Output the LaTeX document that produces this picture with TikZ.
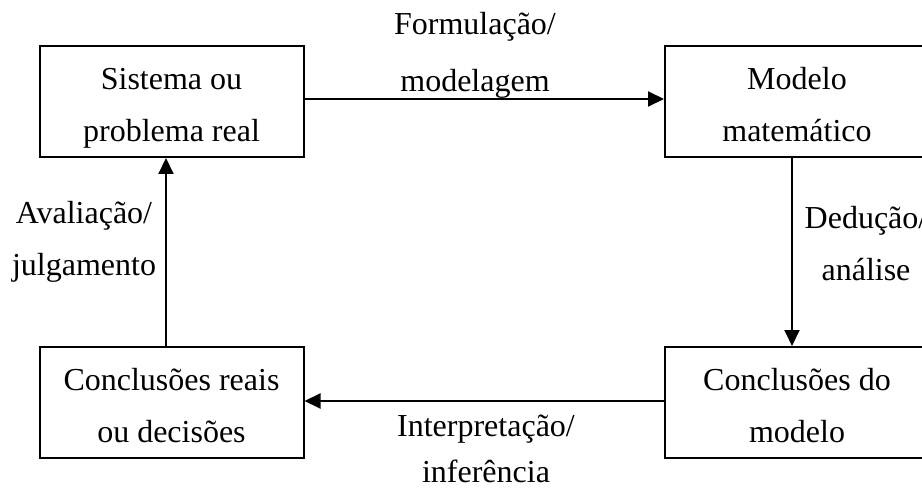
\documentclass[tikz,border=0pt]{standalone}
\usepackage{fontspec}
\setmainfont{Liberation Serif}
\usetikzlibrary{arrows.meta}

\begin{document}
\begin{tikzpicture}[line join=miter,>={Triangle[length=8pt,width=7.5pt]},x=0.5pt,y=-0.5pt,
  caixa/.style={draw,line width=1pt,minimum width=132pt,inner xsep=0pt,inner ysep=0pt,align=center,
    text height=47.5pt,text depth=8pt,font=\fontsize{16}{26}\selectfont},
  rotulo/.style={align=center,inner sep=0pt,anchor=base,font=\fontsize{16}{26}\selectfont},
  seta/.style={->,line width=1pt}]
\useasboundingbox (0,0) rectangle (922,492);
\clip (0,0) rectangle (922,492);
%caixas
\node[caixa] (sis) at (171.5,101.5) {Sistema ou\\problema real};
\node[caixa] (mod) at (797,101.5) {Modelo\\matemático};
\node[caixa] (concm) at (797,402.5) {Conclusões do\\modelo};
\node[caixa] (concr) at (171.5,402.5) {Conclusões reais\\ou decisões};
%setas
\draw [seta] ([yshift=1.25pt]sis.east) -- ([yshift=1.25pt]mod.west);
\draw [seta] ([xshift=-2.5pt]mod.south) -- ([xshift=-2.5pt]concm.north);
\draw [seta] ([yshift=0.75pt]concm.west) -- ([yshift=0.75pt]concr.east);
\draw [seta] ([xshift=-2.75pt]concr.north) -- ([xshift=-2.75pt]sis.south);
%rotulos
\node[rotulo] (form) at (475,92) {Formulação/\\[2.5pt]modelagem};
\node[rotulo] (ded) at (866,280) {Dedução/\\análise};
\node[rotulo] (interp) at (486,482) {Interpretação/\\[-3pt]inferência};
\node[rotulo] (aval) at (84,275) {Avaliação/\\julgamento};
\end{tikzpicture}
\end{document}
